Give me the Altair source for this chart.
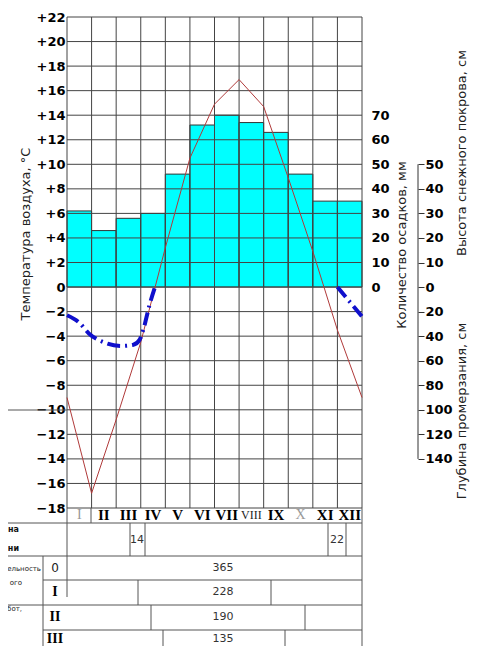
import altair as alt
import pandas as pd

# ---------------- data ----------------
months = ["I", "II", "III", "IV", "V", "VI", "VII", "VIII", "IX", "X", "XI", "XII"]
month_style = ["gray", "bold", "bold", "bold", "bold", "bold", "bold", "thin", "bold", "gray", "bold", "bold"]
precip_mm = [31, 23, 28, 30, 46, 66, 70, 67, 63, 46, 35, 35]

temp_pos = list(range(13))
temp_c = [-9.0, -16.8, -10.8, -4.5, 3.2, 10.5, 14.9, 16.9, 14.7, 8.9, 2.9, -3.5, -9.0]

frost_pos = [0.0, 0.5, 0.9, 1.5, 2.2, 2.7, 2.95, 3.1, 3.35, 3.58, 11.0, 11.5, 12.0]
frost_cm = [23, 29, 38, 45, 48, 47, 43, 35, 15, 0, 0, 12, 24]
frost_part = ["a"] * 10 + ["b"] * 3

temp_ticks = list(range(-18, 23, 2))
precip_ticks = [0, 10, 20, 30, 40, 50, 60, 70]
snow_ticks = [0, 10, 20, 30, 40, 50]
frost_ticks = [20, 40, 60, 80, 100, 120, 140]

row_names = ["0", "I", "II", "III"]
row_values = ["365", "228", "190", "135"]
box_values = ["14", "22"]

# ---------------- layout (pixels of the page) ----------------
PX_LEFT, PX_TOP, W, H = 67, 17, 295, 491


def mx(px):
    return (px - PX_LEFT) / (W / 12)


def ty(py):
    return 22 - (py - PX_TOP) / (H / 40)


xs = alt.Scale(domain=[0, 12], nice=False, zero=False)
ys = alt.Scale(domain=[-18, 22], nice=False, zero=False)

# bars (precipitation, 10 mm = 2 degC)
bars_df = pd.DataFrame({
    "m0": list(range(12)),
    "m1": [i + 1 for i in range(12)],
    "p": [v / 5 for v in precip_mm],
    "z": [0] * 12,
})
bars = alt.Chart(bars_df).mark_rect(color="#00FFFF", stroke="#333333", strokeWidth=1).encode(
    x=alt.X("m0:Q", scale=xs, axis=None),
    x2="m1:Q",
    y=alt.Y("p:Q", scale=ys, axis=alt.Axis(
        orient="right", offset=7, values=[v / 5 for v in precip_ticks],
        labelExpr="format(datum.value*5,'d')", ticks=False, domain=False, grid=False,
        labelFont="DejaVu Sans", labelFontWeight="bold", labelFontSize=13, labelColor="#000",
        labelAlign="left", labelPadding=2, title=None)),
    y2="z:Q",
)

# grid
hgrid_df = pd.DataFrame({"t": temp_ticks, "a": [0] * len(temp_ticks), "b": [12] * len(temp_ticks)})
hgrid = alt.Chart(hgrid_df).mark_rule(color="#444444", strokeWidth=1).encode(
    x=alt.X("a:Q", scale=xs, axis=None), x2="b:Q", y=alt.Y("t:Q", scale=ys, axis=None))
vgrid_df = pd.DataFrame({"m": list(range(13)), "lo": [-18] * 13, "hi": [22] * 13})
vgrid = alt.Chart(vgrid_df).mark_rule(color="#444444", strokeWidth=1).encode(
    x=alt.X("m:Q", scale=xs, axis=None), y=alt.Y("lo:Q", scale=ys, axis=None), y2="hi:Q")

# temperature line
temp_df = pd.DataFrame({"m": temp_pos, "t": temp_c})
temp_line = alt.Chart(temp_df).mark_line(color="#B03A3A", strokeWidth=1).encode(
    x=alt.X("m:Q", scale=xs, axis=None),
    y=alt.Y("t:Q", scale=ys, axis=alt.Axis(
        orient="left", values=temp_ticks,
        labelExpr="datum.value > 0 ? '+' + datum.value : (datum.value < 0 ? '\u2212' + (-datum.value) : '0')",
        ticks=False, domain=False, grid=False,
        labelFont="DejaVu Sans", labelFontWeight="bold", labelFontSize=13, labelColor="#000",
        labelPadding=2, title=None)),
)

# frost depth curve (20 cm = 2 degC below zero)
frost_df = pd.DataFrame({"m": frost_pos, "t": [-v / 10 for v in frost_cm], "part": frost_part})
sf_values = [v / 5 for v in snow_ticks][::-1] + [-v / 10 for v in frost_ticks]
frost_line = alt.Chart(frost_df).mark_line(
    color="#1010CC", strokeWidth=4, strokeDash=[13, 5, 2, 5], interpolate="monotone").encode(
    x=alt.X("m:Q", scale=xs, axis=None),
    y=alt.Y("t:Q", scale=ys, axis=alt.Axis(
        orient="right", offset=56, values=sf_values,
        labelExpr="datum.value >= 0 ? format(datum.value*5,'d') : format(-datum.value*10,'d')",
        ticks=True, tickSize=6, tickColor="#333333", tickWidth=1, domain=False, grid=False,
        labelFont="DejaVu Sans", labelFontWeight="bold", labelFontSize=13, labelColor="#000",
        labelPadding=1, title=None)),
    detail="part:N",
)

# snow/frost axis line
sf_axis_df = pd.DataFrame({"m": [mx(418)], "hi": [max(snow_ticks) / 5], "lo": [-max(frost_ticks) / 10]})
sf_axis = alt.Chart(sf_axis_df).mark_rule(color="#333333", strokeWidth=1).encode(
    x=alt.X("m:Q", scale=xs, axis=None), y=alt.Y("hi:Q", scale=ys, axis=None), y2="lo:Q")

# table frame (page pixel segments)
segs = [
    (0, 410, 67, 410), (0, 523, 362, 523), (0, 556, 362, 556), (43, 580, 362, 580),
    (0, 605, 362, 605), (43, 630, 362, 630),
    (362, 508, 362, 654), (67, 508, 67, 597), (91, 508, 91, 523), (43, 556, 43, 654),
    (130, 523, 130, 556), (145, 523, 145, 556), (328, 523, 328, 556), (346, 523, 346, 556),
    (138, 580, 138, 605), (271, 580, 271, 605), (151, 605, 151, 630), (305, 605, 305, 630),
    (163, 630, 163, 654), (285, 630, 285, 654),
]
seg_df = pd.DataFrame({
    "x1": [mx(s[0]) for s in segs], "y1": [ty(s[1]) for s in segs],
    "x2": [mx(s[2]) for s in segs], "y2": [ty(s[3]) for s in segs],
})
table_rules = alt.Chart(seg_df).mark_rule(color="#555555", strokeWidth=1).encode(
    x=alt.X("x1:Q", scale=xs, axis=None), x2="x2:Q",
    y=alt.Y("y1:Q", scale=ys, axis=None), y2="y2:Q")


def text_layer(df, align="center", **kw):
    return alt.Chart(df).mark_text(baseline="middle", align=align, **kw).encode(
        x=alt.X("x:Q", scale=xs, axis=None), y=alt.Y("y:Q", scale=ys, axis=None), text="s:N")


mdf = pd.DataFrame({"x": [i + 0.5 for i in range(12)], "y": [ty(515)] * 12, "s": months, "st": month_style})
m_bold = text_layer(mdf[mdf.st == "bold"], font="Liberation Serif", fontWeight="bold", fontSize=15, color="#000")
m_thin = text_layer(mdf[mdf.st == "thin"], font="Liberation Serif", fontSize=12, color="#222")
m_gray = text_layer(mdf[mdf.st == "gray"], font="Liberation Serif", fontSize=14, color="#999999")

box_df = pd.DataFrame({"x": [mx(137), mx(337)], "y": [ty(540), ty(540)], "s": box_values})
boxes = text_layer(box_df, font="DejaVu Sans", fontSize=11, color="#333")

row_y = [ty(568), ty(592), ty(617), ty(639)]
val_df = pd.DataFrame({"x": [mx(223)] * 4, "y": row_y, "s": row_values})
vals = text_layer(val_df, font="DejaVu Sans", fontSize=11, color="#333")

rn_df = pd.DataFrame({"x": [mx(55)] * 4, "y": row_y, "s": row_names})
rn0 = text_layer(rn_df[rn_df.s == "0"], font="DejaVu Sans", fontSize=12, color="#222")
rn = text_layer(rn_df[rn_df.s != "0"], font="Liberation Serif", fontWeight="bold", fontSize=14, color="#000")

lb_df = pd.DataFrame({"x": [mx(19), mx(19)], "y": [ty(530), ty(549)], "s": ["на", "ни"]})
lb = text_layer(lb_df, align="right", font="DejaVu Sans", fontWeight="bold", fontSize=8, color="#111")
ln_df = pd.DataFrame({"x": [mx(41), mx(22), mx(22)], "y": [ty(569), ty(583), ty(609)],
                      "s": ["ельность", "ого", "бот,"]})
ln = text_layer(ln_df, align="right", font="DejaVu Sans", fontSize=7, color="#222")

titles_df = pd.DataFrame({
    "x": [mx(26), mx(402), mx(462), mx(462)],
    "y": [ty(234), ty(245), ty(153), ty(411)],
    "s": ["Температура воздуха, °С", "Количество осадков, мм",
          "Высота снежного покрова, см", "Глубина промерзания, см"],
})
titles = text_layer(titles_df, font="DejaVu Sans", fontSize=13, color="#222", angle=270)

chart = alt.layer(
    bars, hgrid, vgrid, temp_line, frost_line, sf_axis, table_rules,
    m_bold, m_thin, m_gray, boxes, vals, rn0, rn, lb, ln, titles,
).resolve_axis(y="independent").properties(
    width=W, height=H,
    autosize=alt.AutoSizeParams(type="none"),
    padding={"left": 59, "top": 9, "right": 109, "bottom": 138},
).configure_view(stroke=None)

chart.save("out.html", embed_options={"renderer": "svg", "actions": False})
